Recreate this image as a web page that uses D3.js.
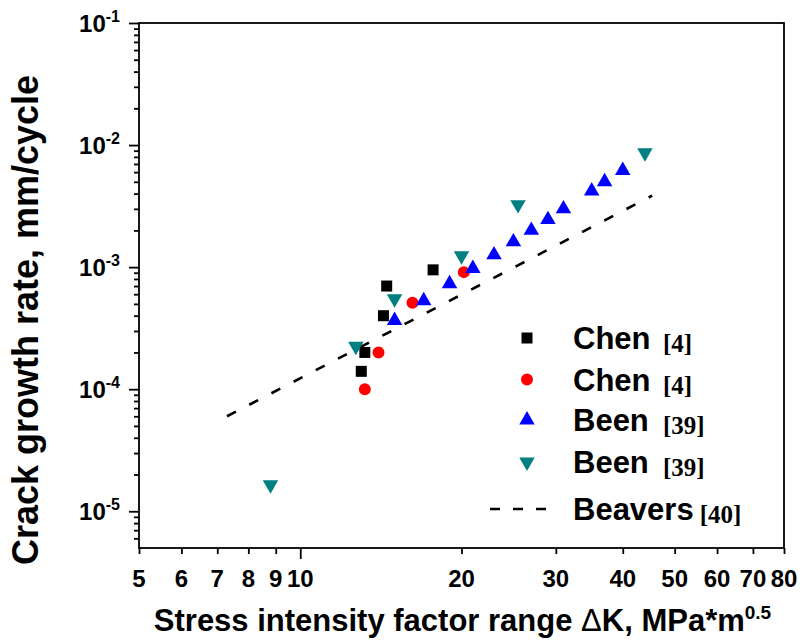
<!DOCTYPE html>
<html>
<head>
<meta charset="utf-8">
<script src="https://cdn.jsdelivr.net/npm/d3@7"></script>
<style>
  body { margin: 0; background: #fff; }
  svg { display: block; }
  text { font-family: 'Liberation Sans', Arial, sans-serif; font-weight: bold; fill: #000; }
  .ref { font-family: 'Liberation Serif', 'Times New Roman', serif; }
</style>
</head>
<body>
<div id="chart"></div>
<script>
// Chen [4], squares
const chenSqK = [13.0, 13.2, 14.3, 14.5, 17.7];
const chenSqRate = [1.4e-4, 2.0e-4, 4.0e-4, 7.0e-4, 9.5e-4];

// Chen [4], circles
const chenCircK = [13.2, 14.0, 16.2, 20.2];
const chenCircRate = [1.0e-4, 2.0e-4, 5.1e-4, 9.1e-4];

// Been [39], up triangles
const beenUpK = [15, 17, 19, 21, 23, 25, 27, 29, 31, 35, 37, 40];
const beenUpRate = [3.65e-4, 5.3e-4, 7.3e-4, 9.75e-4, 1.26e-3, 1.61e-3, 2.0e-3, 2.45e-3, 3.0e-3, 4.2e-3, 5.0e-3, 6.2e-3];

// Been [39], down triangles
const beenDownK = [8.8, 12.7, 15.0, 20.0, 25.5, 44.0];
const beenDownRate = [1.65e-5, 2.25e-4, 5.5e-4, 1.24e-3, 3.25e-3, 8.65e-3];

// Beavers [40], fitted line end points
const beaversK = [7.3, 45.4];
const beaversRate = [6.0e-5, 3.85e-3];

// tick values
const xTicks = [5, 6, 7, 8, 9, 10, 20, 30, 40, 50, 60, 70, 80];
const yMajor = [1e-5, 1e-4, 1e-3, 1e-2, 1e-1];
const yExp = ['-5', '-4', '-3', '-2', '-1'];

const legendNames = ['Chen', 'Chen', 'Been', 'Been', 'Beavers'];
const legendRefs = ['[4]', '[4]', '[39]', '[39]', '[40]'];

const W = 802;
const H = 644;
const margin = { top: 23, right: 18, bottom: 96, left: 139 };
const width = W - margin.left - margin.right;
const height = H - margin.top - margin.bottom;

const x = d3.scaleLog().domain([5, 80]).range([0, width]);
const y = d3.scaleLog().domain([5e-6, 1e-1]).range([height, 0]);

const svg = d3.select('#chart')
  .append('svg')
  .attr('width', W)
  .attr('height', H)
  .append('g')
  .attr('transform', `translate(${margin.left}, ${margin.top})`);

// frame
svg.append('rect')
  .attr('width', width)
  .attr('height', height)
  .attr('fill', 'none')
  .attr('stroke', '#000')
  .attr('stroke-width', 1.8);

// y axis: decades labelled, 2..9 minor ticks
const yMinor = [];
for (let e = -6; e <= -2; e++) {
  for (let m = 2; m <= 9; m++) {
    const v = m * Math.pow(10, e);
    if (v >= 5e-6 && v < 1e-1) yMinor.push(v);
  }
}

svg.append('g')
  .call(d3.axisLeft(y).tickValues(yMinor).tickSize(5).tickFormat(''))
  .call(g => g.select('.domain').remove())
  .selectAll('line').attr('stroke-width', 1.8);

svg.append('g')
  .call(d3.axisLeft(y).tickValues(yMajor).tickSize(10).tickFormat(''))
  .call(g => g.select('.domain').remove())
  .selectAll('line').attr('stroke-width', 1.8);

const yLab = svg.append('g')
  .selectAll('text')
  .data(yMajor)
  .join('text')
  .attr('x', -19)
  .attr('y', d => y(d) + 9)
  .attr('text-anchor', 'end')
  .style('font-size', '24px');

yLab.append('tspan').text('10');
yLab.append('tspan')
  .attr('dy', -10)
  .style('font-size', '16px')
  .text((d, i) => yExp[i]);

// x axis: only 10 is a major tick
svg.append('g')
  .attr('transform', `translate(0, ${height})`)
  .call(d3.axisBottom(x).tickValues(xTicks).tickSize(0).tickFormat(''))
  .call(g => g.select('.domain').remove())
  .selectAll('.tick line')
  .attr('y2', d => (d === 10 ? 11 : 6))
  .attr('stroke-width', 1.8);

svg.append('g')
  .selectAll('text')
  .data(xTicks)
  .join('text')
  .attr('x', d => x(d))
  .attr('y', height + 39)
  .attr('text-anchor', 'middle')
  .style('font-size', '24px')
  .text(d => d);

// axis titles
const xTitle = svg.append('text')
  .attr('x', width / 2 + 1)
  .attr('y', height + 83)
  .attr('text-anchor', 'middle')
  .style('font-size', '31px');

xTitle.append('tspan').text('Stress intensity factor range ');
xTitle.append('tspan').style('font-weight', 'normal').text('\u0394');
xTitle.append('tspan').text('K, MPa*m');
xTitle.append('tspan')
  .attr('dy', -12)
  .style('font-size', '19px')
  .text('0.5');

svg.append('text')
  .attr('transform', `translate(${38 - margin.left}, ${320 - margin.top}) rotate(-90)`)
  .attr('text-anchor', 'middle')
  .style('font-size', '36px')
  .text('Crack growth rate, mm/cycle');

// Beavers line
const line = d3.line()
  .x(d => x(d[0]))
  .y(d => y(d[1]));

svg.append('path')
  .attr('d', line(d3.zip(beaversK, beaversRate)))
  .attr('fill', 'none')
  .attr('stroke', '#000')
  .attr('stroke-width', 2.6)
  .attr('stroke-dasharray', '10,15');

// marker shapes
const square = d3.symbol().type(d3.symbolSquare).size(121)();
const circle = d3.symbol().type(d3.symbolCircle).size(113)();
const tri = d3.symbol().type(d3.symbolTriangle).size(104)();

const series = [
  { k: chenSqK, rate: chenSqRate, path: square, rot: 0, color: '#000000' },
  { k: chenCircK, rate: chenCircRate, path: circle, rot: 0, color: '#ff0000' },
  { k: beenUpK, rate: beenUpRate, path: tri, rot: 0, color: '#0000ff' },
  { k: beenDownK, rate: beenDownRate, path: tri, rot: 180, color: '#008080' },
];

series.forEach((s) => {
  svg.append('g')
    .selectAll('path')
    .data(d3.zip(s.k, s.rate))
    .join('path')
    .attr('d', s.path)
    .attr('transform', d => `translate(${x(d[0])}, ${y(d[1])}) rotate(${s.rot})`)
    .attr('fill', s.color);
});

// legend
const legend = svg.append('g')
  .attr('transform', `translate(${527 - margin.left}, ${338 - margin.top})`);

const rowH = [0, 41.5, 82, 124, 171];

legendNames.forEach((name, i) => {
  const row = legend.append('g').attr('transform', `translate(0, ${rowH[i]})`);

  if (i < 4) {
    const s = series[i];
    row.append('path')
      .attr('d', s.path)
      .attr('transform', `rotate(${s.rot})`)
      .attr('fill', s.color);
  } else {
    row.append('line')
      .attr('x1', -37)
      .attr('x2', 19)
      .attr('stroke', '#000')
      .attr('stroke-width', 2.6)
      .attr('stroke-dasharray', '10,13');
  }

  const label = row.append('text')
    .attr('x', 46)
    .attr('y', 11)
    .style('font-size', '31px')
    .text(name);

  const end = 46 + label.node().getComputedTextLength();

  row.append('text')
    .attr('class', 'ref')
    .attr('x', Math.max(136, end + 6))
    .attr('y', 14)
    .style('font-size', '25px')
    .text(legendRefs[i]);
});
</script>
</body>
</html>
